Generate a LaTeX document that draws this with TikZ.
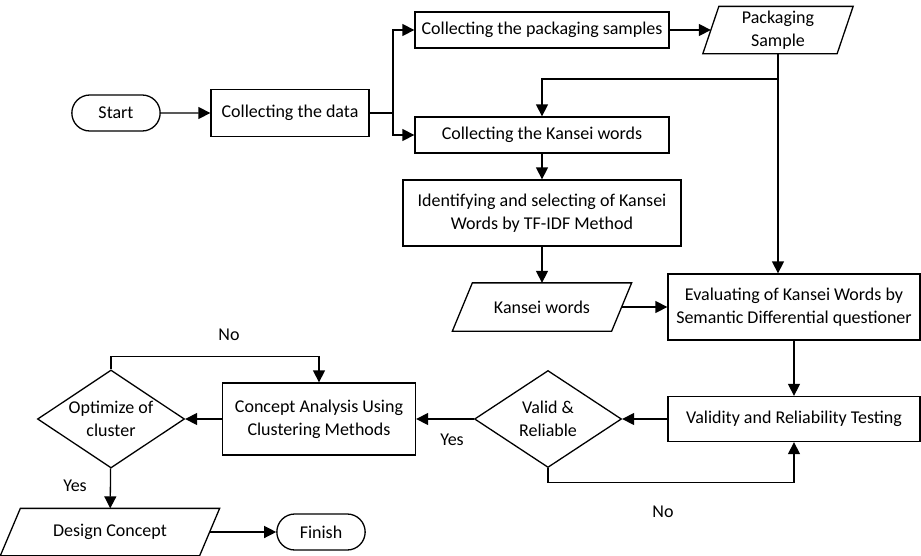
\documentclass[tikz,border=0pt]{standalone}
\usepackage{fontspec}
\setmainfont{Carlito}
\usetikzlibrary{shapes.geometric,shapes.misc,arrows.meta}
\begin{document}
\begin{tikzpicture}[x=1pt,y=-1pt, line width=1.3pt,
  >={Triangle[length=12pt,width=12pt]},
  every node/.style={font=\fontsize{18}{23}\selectfont},
  box/.style={draw, rectangle, align=center, inner sep=2pt},
  term/.style={draw, rounded rectangle, minimum width=95pt, minimum height=36pt},
  io/.style={rectangle, align=center, inner sep=1pt},
  dec/.style={draw, diamond, aspect=1.5, align=center, inner sep=0pt},
  lbl/.style={inner sep=0pt}]
\useasboundingbox (0,0) rectangle (921,555);

\node[term] (start) at (116,113) {Start};
\node[box, minimum width=158pt, minimum height=47pt] (data) at (290,113) {Collecting the data};
\node[box, minimum width=254pt, minimum height=36pt] (pack) at (542,30) {Collecting the packaging samples};
\node[io, minimum width=149pt, minimum height=46pt] (psamp) at (778,30) {Packaging\\Sample};
\draw ([xshift=16pt]psamp.north west) -- (psamp.north east) -- ([xshift=-16pt]psamp.south east) -- (psamp.south west) -- cycle;
\node[box, minimum width=254pt, minimum height=36pt] (kcol) at (542,135) {Collecting the Kansei words};
\node[box, minimum width=278pt, minimum height=66pt] (ident) at (542,213) {Identifying and selecting of Kansei\\Words by TF-IDF Method};
\node[io, minimum width=178pt, minimum height=47pt] (kw) at (542,307) {Kansei words};
\draw ([xshift=20pt]kw.north west) -- (kw.north east) -- ([xshift=-20pt]kw.south east) -- (kw.south west) -- cycle;
\node[box, minimum width=252pt, minimum height=66pt] (eval) at (794,307) {Evaluating of Kansei Words by\\Semantic Differential questioner};
\node[box, minimum width=252pt, minimum height=45pt] (valid) at (794,419) {Validity and Reliability Testing};
\node[dec, minimum width=147pt, minimum height=97pt] (vr) at (548,419) {Valid \&\\Reliable};
\node[box, minimum width=193pt, minimum height=72pt] (concept) at (319,419) {Concept Analysis Using\\Clustering Methods};
\node[dec, minimum width=147pt, minimum height=98pt] (opt) at (111,419) {Optimize of\\cluster};
\node[io, minimum width=218pt, minimum height=46pt] (design) at (110,532) {Design Concept};
\draw ([xshift=20pt]design.north west) -- (design.north east) -- ([xshift=-20pt]design.south east) -- (design.south west) -- cycle;
\node[term] (finish) at (321,532) {Finish};

\draw[->] (start) -- (data);
\coordinate (br) at (393,113);
\draw (data.east) -- (br);
\draw[->] (br) |- (pack.west);
\draw[->] (br) |- (kcol.west);
\draw[->] (pack.east) -- ([xshift=8pt]psamp.west);
\coordinate (pj) at (778,79);
\draw (psamp.south) -- (pj);
\draw[->] (pj) -| (kcol.north);
\draw[->] (pj) -- (pj |- eval.north);
\draw[->] (kcol) -- (ident);
\draw[->] (ident) -- (kw);
\draw[->] ([xshift=-10pt]kw.east) -- (eval.west);
\draw[->] (eval) -- (valid);
\draw[->] (valid) -- (vr);
\draw[->] (vr) -- (concept);
\draw[->] (concept) -- (opt);
\draw[->] (vr.south) -- ++(0,14) -| (valid.south);
\draw[->] (opt.north) -- ++(0,-13) -| (concept.north);
\draw[->] (opt) -- (design);
\draw[->] ([xshift=-10pt]design.east) -- (finish.west);

\node[lbl] (no1) at (229,335) {No};
\node[lbl] (yes1) at (452,440) {Yes};
\node[lbl] (no2) at (663,512) {No};
\node[lbl] (yes2) at (75,486) {Yes};
\end{tikzpicture}
\end{document}
